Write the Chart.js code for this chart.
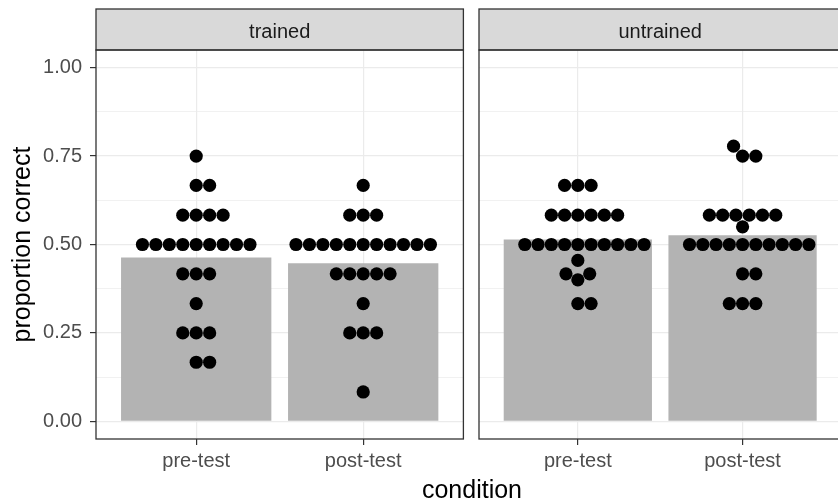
<!DOCTYPE html>
<html>
<head>
<meta charset="utf-8">
<script src="https://cdn.jsdelivr.net/npm/chart.js@4.4.0/dist/chart.umd.min.js"></script>
<style>
  html, body { margin: 0; padding: 0; background: #fff; overflow: hidden; }
  body { width: 838px; height: 502px; position: relative; font-family: "Liberation Sans", Arial, sans-serif; }
  canvas { position: absolute; top: 0; }
  #c1 { left: 0; }
  #c2 { left: 470px; }
  #xTitle { position: absolute; left: 0; width: 944px; top: 475px; text-align: center; font-size: 25px; color: #000; }
</style>
</head>
<body>
<canvas id="c1" width="470" height="502"></canvas>
<canvas id="c2" width="378" height="502"></canvas>
<div id="xTitle">condition</div>
<script>
const panels = ["trained", "untrained"];
const categories = ["pre-test", "post-test"];

// bar heights (mean proportion correct)
const barTrained = [0.463, 0.447];
const barUntrained = [0.514, 0.526];

// individual scores, one per participant
const trainedPre = [0.75, 0.667, 0.667, 0.583, 0.583, 0.583, 0.583,
  0.5, 0.5, 0.5, 0.5, 0.5, 0.5, 0.5, 0.5, 0.5,
  0.417, 0.417, 0.417, 0.333, 0.25, 0.25, 0.25, 0.167, 0.167];
const trainedPost = [0.667, 0.583, 0.583, 0.583,
  0.5, 0.5, 0.5, 0.5, 0.5, 0.5, 0.5, 0.5, 0.5, 0.5, 0.5,
  0.417, 0.417, 0.417, 0.417, 0.417, 0.333, 0.25, 0.25, 0.25, 0.083];
const untrainedPre = [0.667, 0.667, 0.667, 0.583, 0.583, 0.583, 0.583, 0.583, 0.583,
  0.5, 0.5, 0.5, 0.5, 0.5, 0.5, 0.5, 0.5, 0.5, 0.5,
  0.455, 0.417, 0.417, 0.4, 0.333, 0.333];
const untrainedPost = [0.778, 0.75, 0.75, 0.583, 0.583, 0.583, 0.583, 0.583, 0.583, 0.55,
  0.5, 0.5, 0.5, 0.5, 0.5, 0.5, 0.5, 0.5, 0.5, 0.5,
  0.417, 0.417, 0.333, 0.333, 0.333];

const yTicks = [0, 0.25, 0.5, 0.75, 1];
const yMinor = [0.125, 0.375, 0.625, 0.875];
const xTicks = [1, 2];

const FONT = '"Liberation Sans", Arial, sans-serif';
const dotSize = 13.5;

// ggbeeswarm-like swarm: lowest values first, each dot as close to the centre as it fits
function swarm(values, yScale, d) {
  const order = values.map((v, i) => i).sort((a, b) => values[a] - values[b]);
  const placed = [];
  const offsets = [];
  for (const i of order) {
    const py = yScale.getPixelForValue(values[i]);
    const cands = [0];
    for (const p of placed) {
      const dy = Math.abs(p.y - py);
      if (dy < d) {
        const dx = Math.sqrt(d * d - dy * dy);
        cands.push(p.x + dx, p.x - dx);
      }
    }
    const free = cands.filter(c => placed.every(p => Math.hypot(p.x - c, p.y - py) >= d - 0.01));
    free.sort((a, b) => {
      const diff = Math.abs(a) - Math.abs(b);
      return Math.abs(diff) < 1e-6 ? b - a : diff;
    });
    offsets[i] = free[0];
    placed.push({ x: free[0], y: py });
  }
  return offsets;
}

const panelDeco = {
  id: "panelDeco",
  afterDraw(chart, args, opts) {
    const { ctx, chartArea: a } = chart;
    ctx.save();
    // strip
    ctx.fillStyle = "#D9D9D9";
    ctx.fillRect(a.left, 9, a.right - a.left, a.top - 9);
    ctx.strokeStyle = "#333333";
    ctx.lineWidth = 1.3;
    ctx.strokeRect(a.left, 9, a.right - a.left, a.top - 9);
    ctx.fillStyle = "#1A1A1A";
    ctx.font = "20px " + FONT;
    ctx.textAlign = "center";
    ctx.textBaseline = "alphabetic";
    ctx.fillText(opts.label, (a.left + a.right) / 2, 38);
    // panel border
    ctx.strokeRect(a.left, a.top, a.right - a.left, a.bottom - a.top);
    ctx.restore();
  }
};

function makePanel(canvasId, label, bars, pre, post, first) {
  const chart = new Chart(document.getElementById(canvasId), {
    type: "bar",
    data: {
      datasets: [
        {
          type: "scatter",
          order: 0,
          data: [],
          pointRadius: 6.6,
          pointHoverRadius: 6.6,
          pointBackgroundColor: "#000",
          pointBorderWidth: 0,
        },
        {
          type: "bar",
          order: 1,
          data: bars.map((v, i) => ({ x: xTicks[i], y: v })),
          backgroundColor: "#B3B3B3",
          borderWidth: 0,
          categoryPercentage: 0.9,
          barPercentage: 1,
        },
      ],
    },
    options: {
      responsive: false,
      animation: false,
      layout: { padding: { top: 50, right: first ? 5 : 0, left: 0, bottom: 0 } },
      plugins: {
        legend: { display: false },
        tooltip: { enabled: false },
        panelDeco: { label: label },
      },
      scales: {
        x: {
          type: "linear",
          min: 0.4,
          max: 2.6,
          offset: false,
          afterBuildTicks: (s) => { s.ticks = xTicks.map(v => ({ value: v })); },
          afterFit: (s) => { s.height = 63; },
          border: { display: false },
          grid: { offset: false, color: "#EBEBEB", lineWidth: 1.2, tickColor: "#333333", tickLength: 6 },
          ticks: {
            color: "#4D4D4D",
            font: { family: FONT, size: 20 },
            padding: 4,
            maxRotation: 0,
            callback: (v) => categories[Math.round(v) - 1],
          },
        },
        y: {
          type: "linear",
          min: -0.05,
          max: 1.05,
          afterBuildTicks: (s) => {
            s.ticks = yTicks.concat(yMinor).sort((a, b) => a - b).map(v => ({ value: v }));
          },
          afterFit: (s) => { s.width = first ? 96 : 9; },
          border: { display: false },
          grid: {
            color: "#EBEBEB",
            lineWidth: (c) => (c.tick && yMinor.includes(c.tick.value) ? 0.7 : 1.2),
            tickColor: (c) => (c.tick && yMinor.includes(c.tick.value) ? "rgba(0,0,0,0)" : "#333333"),
            tickLength: 6,
            drawTicks: first,
          },
          ticks: {
            display: first,
            autoSkip: false,
            color: "#4D4D4D",
            font: { family: FONT, size: 20 },
            padding: 8,
            callback: (v) => (yTicks.includes(v) ? v.toFixed(2) : ""),
          },
          title: {
            display: first,
            text: "proportion correct",
            color: "#000",
            font: { family: FONT, size: 25, lineHeight: 1 },
            padding: { top: 11, bottom: 0 },
          },
        },
      },
    },
    plugins: [panelDeco],
  });

  const xs = chart.scales.x;
  const unit = xs.getPixelForValue(1) - xs.getPixelForValue(0);
  const pts = [];
  [pre, post].forEach((vals, k) => {
    const offs = swarm(vals, chart.scales.y, dotSize);
    vals.forEach((v, i) => pts.push({ x: xTicks[k] + offs[i] / unit, y: v }));
  });
  chart.data.datasets[0].data = pts;
  chart.update();
  return chart;
}

makePanel("c1", panels[0], barTrained, trainedPre, trainedPost, true);
makePanel("c2", panels[1], barUntrained, untrainedPre, untrainedPost, false);
</script>
</body>
</html>
